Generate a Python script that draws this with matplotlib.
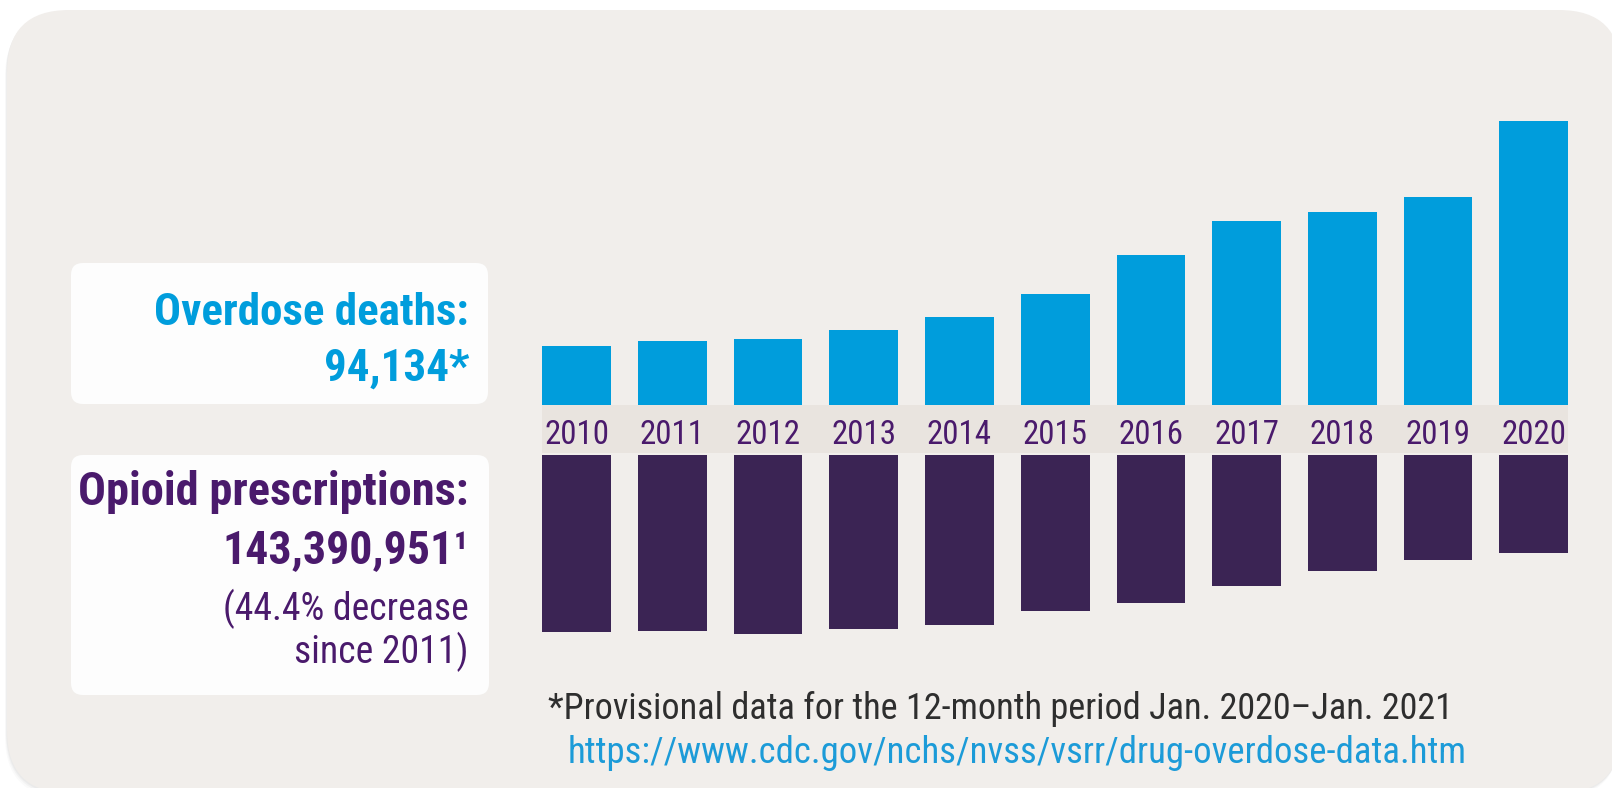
import matplotlib
matplotlib.use("Agg")
import matplotlib.pyplot as plt
from matplotlib import font_manager as fm
from matplotlib.patches import FancyBboxPatch
import numpy as np

# ---------------- data ----------------
years = ["2010", "2011", "2012", "2013", "2014", "2015",
         "2016", "2017", "2018", "2019", "2020"]
# relative bar lengths as drawn in the graphic
overdose_bar = [59, 64.5, 66, 75, 88.5, 111, 150, 184, 193, 208.5, 283.7]
rx_bar = [177.3, 176, 179.3, 174.3, 169.7, 156.3, 148.3, 130.7, 116, 104.7, 98.3]

deaths_label = "Overdose deaths:"
deaths_value = "94,134*"
rx_label = "Opioid prescriptions:"
rx_value = "143,390,951\u00b9"
rx_note = ["(44.4% decrease", "since 2011)"]
footnote = "*Provisional data for the 12-month period Jan. 2020\u2013Jan. 2021"
source_url = "https://www.cdc.gov/nchs/nvss/vsrr/drug-overdose-data.htm"

# ---------------- style ----------------
BG = "#f1eeeb"
BAND = "#e9e4df"
BOX = "#fdfdfd"
BLUE = "#009ddc"
PURPLE_BAR = "#3b2454"
PURPLE_TXT = "#4a1a6c"
DARK = "#2e2e2e"
URL_BLUE = "#1c9bd8"

# choose a narrow font if one is installed
names = {f.name for f in fm.fontManager.ttflist}
FAMILY = None
STRETCH = "normal"
for cand in ["Liberation Sans Narrow", "Roboto Condensed", "Open Sans Condensed",
             "Noto Sans Condensed", "DejaVu Sans Condensed"]:
    if cand in names:
        FAMILY = cand
        break
if FAMILY is None:
    for f in fm.fontManager.ttflist:
        st = str(f.stretch)
        if st in ("condensed", "semi-condensed", "extra-condensed", "ultra-condensed"):
            FAMILY = f.name
            STRETCH = st
            break
if FAMILY is None:
    FAMILY = "Liberation Sans"
plt.rcParams["font.family"] = [FAMILY, "DejaVu Sans"]

W, H, DPI = 1612, 788, 100
fig = plt.figure(figsize=(W / DPI, H / DPI), dpi=DPI)
fig.patch.set_facecolor("white")

# background axes in pixel coordinates
ax = fig.add_axes([0, 0, 1, 1])
ax.set_xlim(0, W)
ax.set_ylim(H, 0)
ax.axis("off")

# panel shadow + panel (right and bottom edges run off the picture)
PX0, PY0, PX1, PY1, RAD = 7, 10, 1621, 793, 62
for k, a in [(5, 0.04), (3, 0.06), (1.5, 0.08)]:
    ax.add_patch(FancyBboxPatch((PX0 - k * 0.4, PY0 + k), PX1 - PX0, PY1 - PY0,
                                boxstyle=f"round,pad=0,rounding_size={RAD}",
                                fc="#8a8a8a", ec="none", alpha=a, zorder=0))
ax.add_patch(FancyBboxPatch((PX0, PY0), PX1 - PX0, PY1 - PY0,
                            boxstyle=f"round,pad=0,rounding_size={RAD}",
                            fc=BG, ec="none", zorder=1))
# white label boxes
ax.add_patch(FancyBboxPatch((71, 263), 417, 141,
                            boxstyle="round,pad=0,rounding_size=12",
                            fc=BOX, ec="none", zorder=2))
ax.add_patch(FancyBboxPatch((71, 455), 418, 240,
                            boxstyle="round,pad=0,rounding_size=12",
                            fc=BOX, ec="none", zorder=2))

fig.canvas.draw()
renderer = fig.canvas.get_renderer()
CAP = 0.711 * DPI / 72.0


def fit_text(axis, x, y, s, target_w, target_cap, ha="right", weight="normal",
             color="k", fontsize=None, **kw):
    t = axis.text(x, y, s, ha=ha, va="baseline", fontsize=20, fontweight=weight,
                  color=color, fontstretch=STRETCH, zorder=5, **kw)
    if fontsize is None:
        w = t.get_window_extent(renderer=renderer).width
        size_w = 20.0 * target_w / w
        size_h = target_cap / CAP
        fontsize = min(size_w, size_h)
    t.set_fontsize(fontsize)
    return t, fontsize


RX = 469
fit_text(ax, RX, 325, deaths_label, 330, 32, weight="bold", color=BLUE)
fit_text(ax, RX, 381, deaths_value, 150, 32, weight="bold", color=BLUE)
fit_text(ax, RX, 505, rx_label, 388, 34, weight="bold", color=PURPLE_TXT)
fit_text(ax, RX, 563, rx_value, 246, 34, weight="bold", color=PURPLE_TXT)
_, note_fs = fit_text(ax, RX, 620, rx_note[0], 246, 28, color=PURPLE_TXT)
fit_text(ax, RX, 663, rx_note[1], 161, 28, color=PURPLE_TXT, fontsize=note_fs)

fit_text(ax, 548, 719, footnote, 905, 28, ha="left", color=DARK)
fit_text(ax, 568, 763, source_url, 897, 28, ha="left", color=URL_BLUE)

# ---------------- bar axes ----------------
x = np.arange(len(years))
bw = 0.717
x_left, x_right = 528.85, 1581.55
base_y = 405          # baseline of the upward bars (pixels from top)
band_h = 48
top_units = 300

ax_top = fig.add_axes([x_left / W, 1 - (base_y + band_h) / H,
                       (x_right - x_left) / W, (top_units + band_h) / H])
ax_top.set_xlim(-0.5, len(years) - 0.5)
ax_top.set_ylim(-band_h, top_units)
ax_top.axis("off")
ax_top.patch.set_alpha(0)
edge = (0.5 - bw / 2) / len(years)
ax_top.axhspan(-band_h, 0, xmin=edge, xmax=1 - edge, color=BAND, lw=0, zorder=1)
ax_top.bar(x, overdose_bar, width=bw, color=BLUE, lw=0, zorder=2)

fig.canvas.draw()
_, yr_fs = fit_text(ax_top, 0, -39, years[0], 65, 30, ha="center", color=PURPLE_TXT)
for i in range(1, len(years)):
    fit_text(ax_top, i, -39, years[i], 65, 30, ha="center", color=PURPLE_TXT,
             fontsize=yr_fs)

rx_top = 455
rx_units = 200
ax_bot = fig.add_axes([x_left / W, 1 - (rx_top + rx_units) / H,
                       (x_right - x_left) / W, rx_units / H])
ax_bot.set_xlim(-0.5, len(years) - 0.5)
ax_bot.set_ylim(rx_units, 0)
ax_bot.axis("off")
ax_bot.patch.set_alpha(0)
ax_bot.bar(x, rx_bar, width=bw, color=PURPLE_BAR, lw=0, zorder=2)

fig.savefig("out.png", dpi=DPI, facecolor="white")
